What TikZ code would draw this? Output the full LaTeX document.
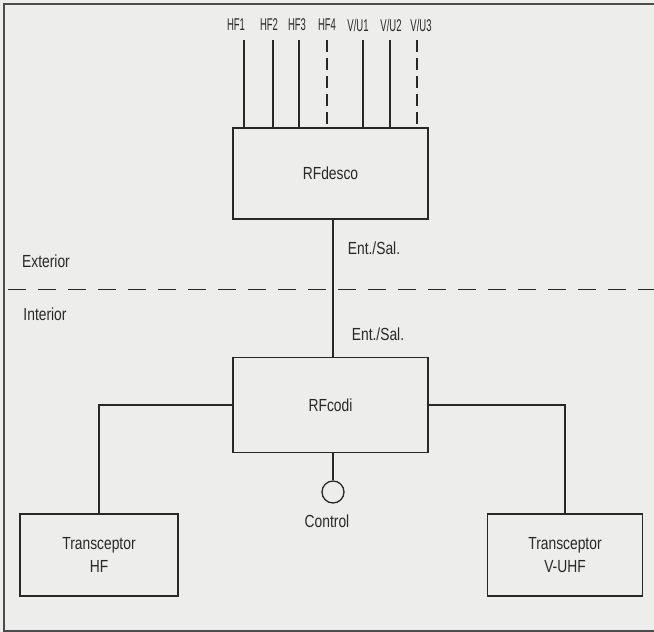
\documentclass[tikz,border=0pt]{standalone}
\usepackage{fontspec}
\setmainfont{Liberation Sans}[FakeStretch=0.79]
\newfontfamily\antfont{Liberation Sans}[FakeStretch=0.56]
\definecolor{paper}{RGB}{237,237,235}
\definecolor{ink}{RGB}{40,40,40}
\tikzset{
  paperbg/.style={fill=paper},
  frame/.style  ={draw=black!70,line width=1.3pt},
  blk/.style    ={draw=ink,line width=1.3pt,inner sep=0pt,align=center,text=ink,
                  font=\fontsize{17.5}{23}\selectfont},
  ctrl/.style   ={draw=ink,circle,line width=1.3pt,minimum size=22pt,inner sep=0pt},
  wire/.style   ={draw=ink,line width=1.3pt},
  ant/.style    ={wire},
  antd/.style   ={wire,line width=1.5pt,dash pattern=on 12pt off 6pt},
  limit/.style  ={draw=ink,line width=1.4pt,dash pattern=on 18pt off 12pt},
  txt/.style    ={text=ink,inner sep=0pt,font=\fontsize{17.5}{23}\selectfont},
  antlbl/.style ={text=ink,inner sep=0pt,font=\antfont\fontsize{17}{20}\selectfont},
}

\begin{document}
\begin{tikzpicture}[x=1pt,y=-1pt]

  % ---------- fondo y marco ----------
  \fill[paperbg] (0,0) rectangle (654,632);
  \useasboundingbox (0,0) rectangle (654,632);
  \draw[frame] (654,4) -- (4,4) -- (4,631) -- (654,631);

  % ---------- bloques ----------
  \node[blk,minimum width=195pt,minimum height=91pt] (desco) at (330.5,173.5) {RFdesco};
  \node[blk,minimum width=195pt,minimum height=95pt] (codi)  at (330.5,405)   {RFcodi};
  \node[blk,minimum width=158pt,minimum height=82pt] (hf)    at (99,555)      {Transceptor\\HF};
  \node[blk,minimum width=155pt,minimum height=82pt] (vuhf)  at (565,555)     {Transceptor\\V-UHF};
  \node[ctrl] (ctl) at (333,492) {};

  % ---------- antenas ----------
  \foreach \x/\lx/\txt/\sty [count=\i] in {244/236/HF1/ant, 273/269/HF2/ant, 299/297/HF3/ant,
      327/327/HF4/antd, 363/358/{V/U1}/ant, 390/391/{V/U2}/ant, 417/421/{V/U3}/antd}{
    \coordinate (a\i) at (\x,40);
    \draw[\sty] (a\i) -- (a\i |- desco.north);
    \node[antlbl] (l\i) at (\lx,25) {\txt};
  }

  % ---------- conexiones ----------
  \draw[wire] (desco.south -| ctl) -- (codi.north -| ctl);
  \draw[wire] (codi.south -| ctl) -- (ctl.north);
  \draw[wire] (codi.west) -| (hf.north);
  \draw[wire] (codi.east) -| (vuhf.north);

  % ---------- limite exterior / interior ----------
  \coordinate (lim-w) at (8,289.5);
  \coordinate (lim-e) at (654,289.5);
  \draw[limit] (lim-w) -- (lim-e);

  % ---------- etiquetas ----------
  \node[txt] (ext)  at (46,261)  {Exterior};
  \node[txt] (int)  at (45,314)  {Interior};
  \node[txt] (es1)  at (374,248) {Ent./Sal.};
  \node[txt] (es2)  at (378,334) {Ent./Sal.};
  \node[txt] (ctlt) at (327,521) {Control};

\end{tikzpicture}
\end{document}
